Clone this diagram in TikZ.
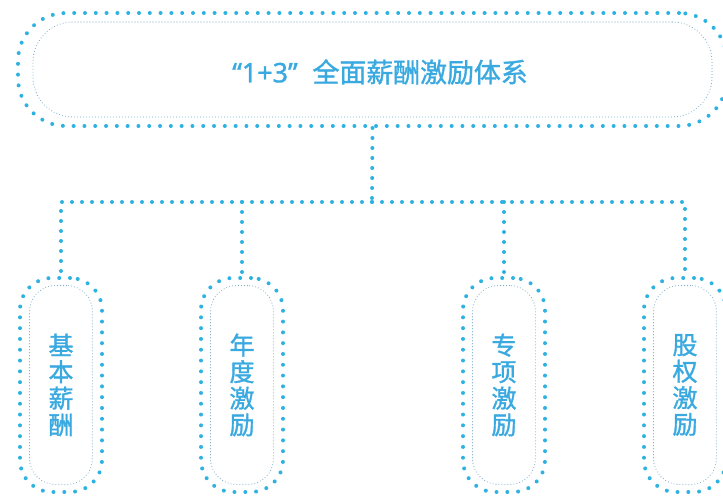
\documentclass[tikz,border=0pt]{standalone}
\usepackage{fontspec}
\newfontfamily\cjk[FakeBold=1.3]{Noto Sans CJK SC}
\newfontfamily\lat[FakeBold=1.3]{Noto Sans}
\definecolor{dotblue}{HTML}{2EB2E2}
\definecolor{innerline}{HTML}{78A9C8}
\definecolor{txtblue}{HTML}{3AA9E0}
\begin{document}
\begin{tikzpicture}[x=1pt,y=-1pt,
  outerdots/.style={draw=dotblue, line width=4pt, line cap=round, dash pattern=on 0pt off 10.8pt, rectangle, inner sep=0pt},
  innerdots/.style={draw=innerline, line width=1.1pt, line cap=round, dash pattern=on 0pt off 3pt, rectangle, inner sep=0pt},
  conn/.style={draw=dotblue, line width=4pt, line cap=round, dash pattern=on 0pt off 10pt},
  toptext/.style={text=txtblue, font=\cjk\fontsize{26.9}{28}\selectfont},
  vtext/.style={text=txtblue, align=center, font=\cjk\fontsize{25}{26.5}\selectfont}
]
\useasboundingbox (0,0) rectangle (723,497);
% top pill
\node[outerdots, rounded corners=48pt, minimum width=709pt, minimum height=113pt] (top) at (372.5,69.5) {};
\node[innerdots, rounded corners=40pt, minimum width=679pt, minimum height=95pt] (topin) at (top.center) {};
\node[toptext] (toplabel) at (380,72) {{\lat “1+3”}\hspace{0.55em}全面薪酬激励体系};
% small pills
\foreach \n/\x/\t in {p1/61/{基\\本\\薪\\酬}, p2/242/{年\\度\\激\\励}, p3/504/{专\\项\\激\\励}, p4/685/{股\\权\\激\\励}}{
  \node[outerdots, rounded corners=32pt, minimum width=82pt, minimum height=214pt] (\n) at (\x,385) {};
  \node[innerdots, rounded corners=26pt, minimum width=63pt, minimum height=199pt] (\n in) at (\n.center) {};
  \node[vtext] (\n label) at (\n.center) {\t};
}
% connectors
\coordinate (hub) at (372,202);
\draw[conn] (top.south) -- (hub);
\draw[conn] (hub) -| (p1.north);
\draw[conn] (hub) -| (p4.north);
\draw[conn] (p2.north |- hub) -- (p2.north);
\draw[conn] (p3.north |- hub) -- (p3.north);
\end{tikzpicture}
\end{document}
